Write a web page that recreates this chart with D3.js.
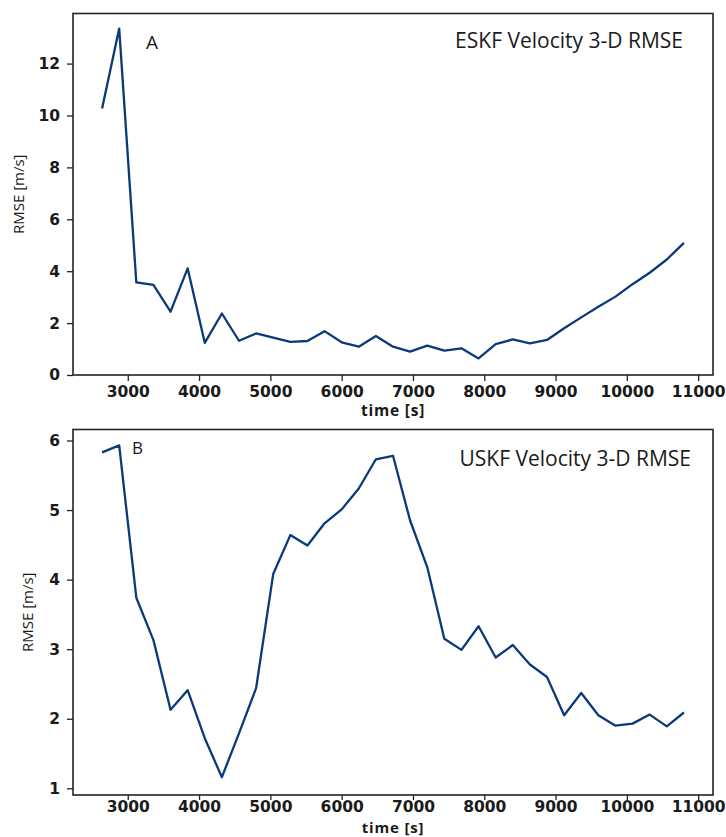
<!DOCTYPE html>
<html>
<head>
<meta charset="utf-8">
<script src="https://cdn.jsdelivr.net/npm/d3@7"></script>
<style>
  html, body { margin: 0; padding: 0; background: #fff; }
  svg { display: block; }
</style>
</head>
<body>
<div id="chart"></div>
<script>
// ---- data ----
const timeSec = [2640, 2880, 3120, 3360, 3600, 3840, 4080, 4320, 4560, 4800,
  5040, 5280, 5520, 5760, 6000, 6240, 6480, 6720, 6960, 7200,
  7440, 7680, 7920, 8160, 8400, 8640, 8880, 9120, 9360, 9600,
  9840, 10080, 10320, 10560, 10800];

const eskfRmse = [10.27, 13.35, 3.57, 3.47, 2.44, 4.11, 1.24, 2.37, 1.32, 1.60,
  1.44, 1.28, 1.31, 1.69, 1.26, 1.09, 1.50, 1.09, 0.90, 1.13,
  0.94, 1.03, 0.64, 1.19, 1.37, 1.22, 1.35, 1.80, 2.22, 2.63,
  3.02, 3.50, 3.94, 4.45, 5.09];

const uskfRmse = [5.83, 5.93, 3.74, 3.13, 2.13, 2.41, 1.72, 1.16, 1.79, 2.44,
  4.08, 4.64, 4.49, 4.81, 5.01, 5.31, 5.73, 5.78, 4.85, 4.18,
  3.15, 2.99, 3.33, 2.88, 3.06, 2.78, 2.60, 2.05, 2.37, 2.05,
  1.90, 1.93, 2.06, 1.89, 2.09];

const xTicks = [3000, 4000, 5000, 6000, 7000, 8000, 9000, 10000, 11000];
const yTicksA = [0, 2, 4, 6, 8, 10, 12];
const yTicksB = [1, 2, 3, 4, 5, 6];

const panels = [
  { values: eskfRmse, yTicks: yTicksA, yDomain: [0, 13.93], letter: "A",
    title: "ESKF Velocity 3-D RMSE", top: 13.5, bottom: 375,
    letterPos: [146, 49, 19], titlePos: [683, 48], xLabelY: 416, yLabelX: 24,
    xTickLen: 6, xPad: 5, xLabelSize: 15.5 },
  { values: uskfRmse, yTicks: yTicksB, yDomain: [0.904, 6.158], letter: "B",
    title: "USKF Velocity 3-D RMSE", top: 429.5, bottom: 795,
    letterPos: [132, 454, 17], titlePos: [691, 466], xLabelY: 832.5, yLabelX: 33,
    xTickLen: 5, xPad: 1, xLabelSize: 15 }
];

// ---- layout ----
const W = 726, H = 837;
const left = 73, right = 713;
const lineColor = "#0a3a7a";
const tickFont = "'DejaVu Sans', sans-serif";
const textFont = "'Open Sans', 'Noto Sans', sans-serif";

const svg = d3.select("#chart").append("svg")
  .attr("width", W).attr("height", H);

const x = d3.scaleLinear().domain([2232, 11208]).range([left, right]);

panels.forEach(p => {
  const y = d3.scaleLinear().domain(p.yDomain).range([p.bottom, p.top]);
  const g = svg.append("g");

  const xa = g.append("g")
    .attr("transform", `translate(0,${p.bottom})`)
    .call(d3.axisBottom(x).tickValues(xTicks).tickSize(p.xTickLen).tickPadding(p.xPad).tickFormat(d3.format("d")));
  const ya = g.append("g")
    .attr("transform", `translate(${left},0)`)
    .call(d3.axisLeft(y).tickValues(p.yTicks).tickSize(6).tickPadding(7).tickFormat(d3.format("d")));

  [xa, ya].forEach(a => {
    a.select(".domain").remove();
    a.selectAll(".tick line").attr("stroke", "#222").attr("stroke-width", 1.3);
    a.selectAll(".tick text")
      .attr("fill", "#1a1a1a")
      .style("font-family", tickFont)
      .style("font-size", "15.5px")
      .style("font-weight", "bold");
  });

  g.append("rect")
    .attr("x", left).attr("y", p.top)
    .attr("width", right - left).attr("height", p.bottom - p.top)
    .attr("fill", "none").attr("stroke", "#222").attr("stroke-width", 1.6);

  const line = d3.line().x((d, i) => x(timeSec[i])).y(d => y(d));
  g.append("path")
    .datum(p.values)
    .attr("d", line)
    .attr("fill", "none")
    .attr("stroke", lineColor)
    .attr("stroke-width", 2.3)
    .attr("stroke-linejoin", "round");

  g.append("text")
    .attr("x", (left + right) / 2).attr("y", p.xLabelY)
    .attr("text-anchor", "middle")
    .style("font-family", textFont).style("font-size", p.xLabelSize + "px").style("font-weight", "bold")
    .style("letter-spacing", "0.8px")
    .attr("fill", "#1a1a1a")
    .text("time [s]");

  g.append("text")
    .attr("transform", `translate(${p.yLabelX},${(p.top + p.bottom) / 2}) rotate(-90)`)
    .attr("text-anchor", "middle")
    .style("font-family", textFont).style("font-size", "15px")
    .attr("fill", "#1a1a1a")
    .text("RMSE [m/s]");

  g.append("text")
    .attr("x", p.letterPos[0]).attr("y", p.letterPos[1])
    .style("font-family", textFont).style("font-size", p.letterPos[2] + "px")
    .attr("fill", "#1a1a1a")
    .text(p.letter);

  g.append("text")
    .attr("x", p.titlePos[0]).attr("y", p.titlePos[1])
    .attr("text-anchor", "end")
    .style("font-family", textFont).style("font-size", "21px")
    .attr("fill", "#1a1a1a")
    .text(p.title);
});
</script>
</body>
</html>
